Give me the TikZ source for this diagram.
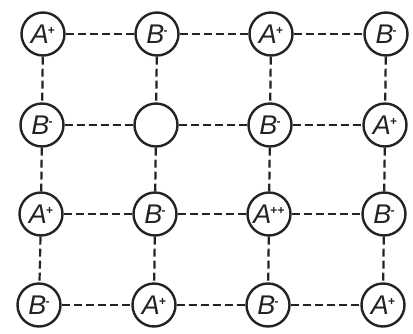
\documentclass[tikz,border=0pt]{standalone}
\usepackage{fontspec}
\setmainfont{Liberation Sans}
\usepackage{tikz}
\usetikzlibrary{positioning}
\definecolor{ink}{RGB}{35,35,35}
\tikzset{
  ion/.style={draw=ink,circle,line width=2.4pt,minimum size=43pt,inner sep=0pt,
    fill=white,font=\fontsize{27}{27}\selectfont\itshape,text=ink},
  bond/.style={draw=ink,line width=2.2pt,dash pattern=on 8pt off 4pt},
}
\newcommand{\chg}[2]{#1\kern-1pt\raisebox{9pt}{\fontsize{12}{12}\selectfont\upshape\bfseries #2}}

\begin{document}
\begin{tikzpicture}[x=1pt,y=-1pt]
  \useasboundingbox (0,0) rectangle (413,333);
  % row 1
  \node[ion] (n11) at (43,34)  {\chg{A}{+}};
  \node[ion] (n12) at (157,34) {\chg{B}{-}};
  \node[ion] (n13) at (271,34) {\chg{A}{+}};
  \node[ion] (n14) at (386,34) {\chg{B}{-}};
  % row 2
  \node[ion] (n21) at (42,125)  {\chg{B}{-}};
  \node[ion] (n22) at (156,125) {};
  \node[ion] (n23) at (270,125) {\chg{B}{-}};
  \node[ion] (n24) at (385,125) {\chg{A}{+}};
  % row 3
  \node[ion] (n31) at (41,214)  {\chg{A}{+}};
  \node[ion] (n32) at (155,214) {\chg{B}{-}};
  \node[ion] (n33) at (269,214) {\chg{A}{++}};
  \node[ion] (n34) at (384,214) {\chg{B}{-}};
  % row 4
  \node[ion] (n41) at (39,305)  {\chg{B}{-}};
  \node[ion] (n42) at (154,305) {\chg{A}{+}};
  \node[ion] (n43) at (268,305) {\chg{B}{-}};
  \node[ion] (n44) at (383,305) {\chg{A}{+}};
  % horizontal bonds
  \draw[bond] (n11) -- (n12) (n12) -- (n13) (n13) -- (n14);
  \draw[bond] (n21) -- (n22) (n22) -- (n23) (n23) -- (n24);
  \draw[bond] (n31) -- (n32) (n32) -- (n33) (n33) -- (n34);
  \draw[bond] (n41) -- (n42) (n42) -- (n43) (n43) -- (n44);
  % vertical bonds
  \draw[bond] (n11) -- (n21) (n21) -- (n31) (n31) -- (n41);
  \draw[bond] (n12) -- (n22) (n22) -- (n32) (n32) -- (n42);
  \draw[bond] (n13) -- (n23) (n23) -- (n33) (n33) -- (n43);
  \draw[bond] (n14) -- (n24) (n24) -- (n34) (n34) -- (n44);
\end{tikzpicture}
\end{document}
